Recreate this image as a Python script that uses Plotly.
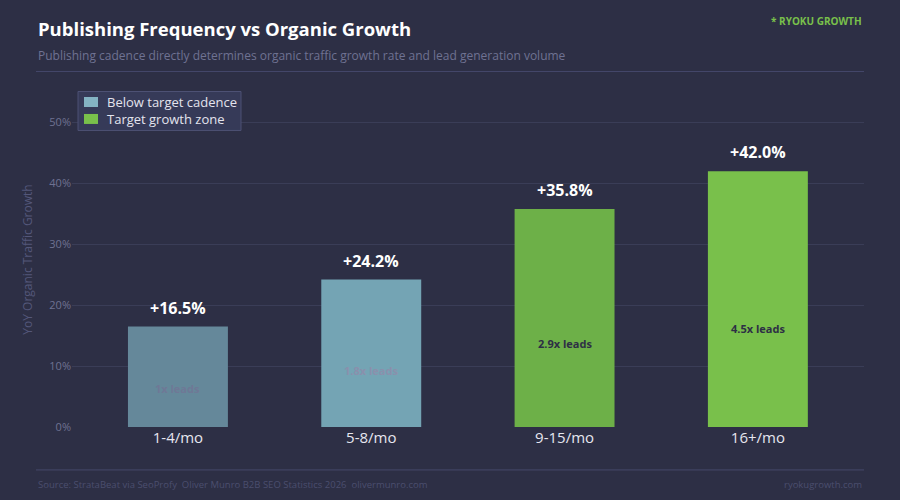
import plotly.graph_objects as go

categories = ["1-4/mo", "5-8/mo", "9-15/mo", "16+/mo"]
growth = [16.5, 24.2, 35.8, 42.0]
leads = ["1x leads", "1.8x leads", "2.9x leads", "4.5x leads"]
bar_colors = ["#65889a", "#74a4b4", "#6db048", "#79c04b"]
lead_colors = ["#6f7896", "#8a90ac", "#2d2f45", "#2d2f45"]
legend_names = ["Below target cadence", "Target growth zone"]
legend_colors = ["#84b3c3", "#79c04b"]

FONT = "Open Sans, Inter, Roboto, sans-serif"
W, H = 900, 500
L, R, T, B = 72, 36, 91.5, 73
PW, PH = W - L - R, H - T - B

def px(x):
    return (x - L) / PW

def py(y):
    return (H - B - y) / PH

fig = go.Figure()

fig.add_trace(go.Bar(
    x=categories, y=growth,
    marker=dict(color=bar_colors, line=dict(width=0)),
    showlegend=False, hoverinfo="skip",
))

annotations = []
for c, v in zip(categories, growth):
    annotations.append(dict(x=c, y=v, xref="x", yref="y", text=f"+{v:.1f}%",
                            showarrow=False, yshift=19,
                            font=dict(family=FONT, size=16, color="#ffffff", weight="bold")))
for c, v, t, col in zip(categories, growth, leads, lead_colors):
    annotations.append(dict(x=c, y=v * 0.385, xref="x", yref="y", text=t,
                            showarrow=False,
                            font=dict(family=FONT, size=11, color=col, weight="bold")))

annotations += [
    dict(x=px(36), y=py(28), xref="paper", yref="paper", xanchor="left", yanchor="middle",
         text="Publishing Frequency vs Organic Growth", showarrow=False,
         font=dict(family=FONT, size=18.5, color="#ffffff", weight="bold")),
    dict(x=px(36), y=py(55), xref="paper", yref="paper", xanchor="left", yanchor="middle",
         text="Publishing cadence directly determines organic traffic growth rate and lead generation volume",
         showarrow=False, font=dict(family=FONT, size=12, color="#6f7292")),
    dict(x=px(864), y=py(20), xref="paper", yref="paper", xanchor="right", yanchor="middle",
         text="* RYOKU GROWTH", showarrow=False,
         font=dict(family=FONT, size=10, color="#79c04b", weight="bold")),
    dict(x=px(36), y=py(485), xref="paper", yref="paper", xanchor="left", yanchor="middle",
         text="Source: StrataBeat via SeoProfy  Oliver Munro B2B SEO Statistics 2026  olivermunro.com",
         showarrow=False, font=dict(family=FONT, size=9.5, color="#4b4e6e")),
    dict(x=px(864), y=py(485), xref="paper", yref="paper", xanchor="right", yanchor="middle",
         text="ryokugrowth.com", showarrow=False,
         font=dict(family=FONT, size=9.5, color="#4b4e6e")),
]

shapes = [
    dict(type="line", xref="paper", yref="paper", x0=px(36), x1=px(864), y0=py(71), y1=py(71),
         line=dict(color="#45486a", width=1)),
    dict(type="line", xref="paper", yref="paper", x0=px(36), x1=px(864), y0=py(470), y1=py(470),
         line=dict(color="#45486a", width=1)),
    dict(type="rect", xref="paper", yref="paper", x0=px(78), x1=px(241), y0=py(91), y1=py(130),
         fillcolor="#363a58", line=dict(color="#4d5174", width=1), layer="above"),
]
for i, (name, col) in enumerate(zip(legend_names, legend_colors)):
    yc = 101.5 + 17 * i
    shapes.append(dict(type="rect", xref="paper", yref="paper", x0=px(84), x1=px(98),
                       y0=py(yc - 5), y1=py(yc + 5), fillcolor=col, line=dict(width=0), layer="above"))
    annotations.append(dict(x=px(105), y=py(yc), xref="paper", yref="paper", xanchor="left",
                            yanchor="middle", text=name, showarrow=False,
                            font=dict(family=FONT, size=13, color="#e4e4ee")))

fig.update_layout(
    width=W, height=H,
    margin=dict(l=L, r=R, t=T, b=B, pad=0),
    paper_bgcolor="#2d2f45", plot_bgcolor="#2d2f45",
    bargap=0.483, showlegend=False,
    font=dict(family=FONT, color="#6f7292"),
    annotations=annotations, shapes=shapes,
    xaxis=dict(range=[-0.548, 3.549], showgrid=False, zeroline=False, showline=False,
               ticks="", tickfont=dict(size=15, color="#e6e6ef"), fixedrange=True),
    yaxis=dict(range=[0, 55], dtick=10, ticksuffix="%", showgrid=True, gridcolor="#3a3d57",
               gridwidth=1, zeroline=False, showline=False,
               tickfont=dict(size=11, color="#6f7292"),
               title=dict(text="YoY Organic Traffic Growth", font=dict(size=12, color="#54577a"), standoff=14)),
)

fig.write_html("out.html")
